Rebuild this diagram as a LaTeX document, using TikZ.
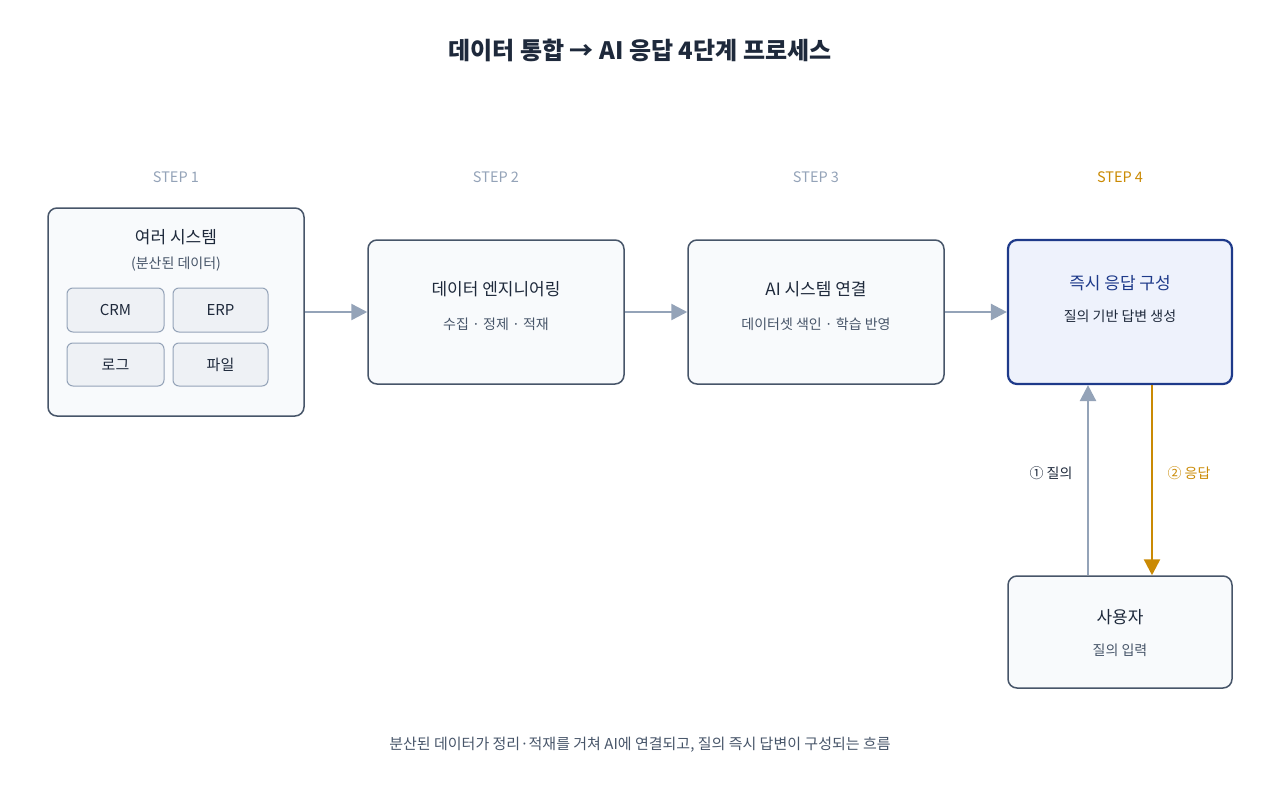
\documentclass[tikz,border=0pt]{standalone}
\usepackage{fontspec}
\setmainfont{Noto Sans CJK KR}
\usetikzlibrary{arrows.meta}
\definecolor{bd}{HTML}{475569}
\definecolor{fl}{HTML}{F8FAFC}
\definecolor{ar}{HTML}{94A3B8}
\definecolor{tx}{HTML}{1E293B}
\definecolor{st}{HTML}{475569}
\definecolor{bl}{HTML}{1E3A8A}
\definecolor{bf}{HTML}{EEF2FC}
\definecolor{gd}{HTML}{CA8A04}
\definecolor{inf}{HTML}{EEF1F5}
\tikzset{
 box/.style={draw=bd,fill=fl,line width=1.5pt,rounded corners=9pt},
 ibox/.style={draw=ar,fill=inf,line width=1pt,rounded corners=6pt},
 arr/.style={draw=ar,line width=2.5pt,-{Triangle[length=16pt,width=16pt]}},
 stp/.style={text=ar,font=\fontsize{14.5}{16}\selectfont},
 ttl/.style={text=tx,font=\fontsize{17}{20}\selectfont},
 sub/.style={text=st,font=\fontsize{14}{16}\selectfont},
}
\begin{document}
\begin{tikzpicture}[x=1pt,y=-1pt]
\useasboundingbox (0,0) rectangle (1280,800);
\node[text=tx,font=\fontsize{24}{28}\selectfont\bfseries] (title) at (640,50) {데이터 통합 → AI 응답 4단계 프로세스};
\node[stp] (s1) at (176,177) {STEP 1};
\node[stp] (s2) at (496,177) {STEP 2};
\node[stp] (s3) at (816,177) {STEP 3};
\node[stp,text=gd] (s4) at (1120,177) {STEP 4};
\draw[box] (48,208) rectangle (304,416);
\node[box,draw=none,fill=none,minimum width=256pt,minimum height=208pt] (b1) at (176,312) {};
\node[ttl] (t1) at (176,237) {여러 시스템};
\node[sub] (u1) at (176,264) {(분산된 데이터)};
\node[ibox,minimum width=97pt,minimum height=44pt] (crm) at (115.5,310) {\fontsize{15}{18}\selectfont\color{tx}CRM};
\node[ibox,minimum width=95pt,minimum height=44pt] (erp) at (220.5,310) {\fontsize{15}{18}\selectfont\color{tx}ERP};
\node[ibox,minimum width=97pt,minimum height=43pt] (log) at (115.5,364.5) {\fontsize{15}{18}\selectfont\color{tx}로그};
\node[ibox,minimum width=95pt,minimum height=43pt] (file) at (220.5,364.5) {\fontsize{15}{18}\selectfont\color{tx}파일};
\node[box,minimum width=256pt,minimum height=144pt] (b2) at (496,312) {};
\node[ttl] at (496,289) {데이터 엔지니어링};
\node[sub] at (496,324) {수집 · 정제 · 적재};
\node[box,minimum width=256pt,minimum height=144pt] (b3) at (816,312) {};
\node[ttl] at (816,289) {AI 시스템 연결};
\node[sub] at (816,324) {데이터셋 색인 · 학습 반영};
\node[box,draw=bl,fill=bf,line width=2.2pt,minimum width=224pt,minimum height=144pt] (b4) at (1120,312) {};
\node[ttl,text=bl] at (1120,283) {즉시 응답 구성};
\node[sub,text=tx] at (1120,316) {질의 기반 답변 생성};
\node[box,minimum width=224pt,minimum height=112pt] (u) at (1120,632) {};
\node[ttl] at (1120,617) {사용자};
\node[sub] at (1120,650) {질의 입력};
\draw[arr] (b1.east) -- (b2.west);
\draw[arr] (b2.east) -- (b3.west);
\draw[arr] (b3.east) -- (b4.west);
\draw[arr] (u.north -| 1088,0) -- (b4.south -| 1088,0);
\draw[arr,draw=gd] (b4.south -| 1152,0) -- (u.north -| 1152,0);
\node[sub,text=tx,anchor=east] (q) at (1076,473) {① 질의};
\node[sub,text=gd,anchor=west] (a) at (1164,473) {② 응답};
\node[text=st,font=\fontsize{15}{18}\selectfont] (cap) at (640,745) {분산된 데이터가 정리·적재를 거쳐 AI에 연결되고, 질의 즉시 답변이 구성되는 흐름};
\end{tikzpicture}
\end{document}
